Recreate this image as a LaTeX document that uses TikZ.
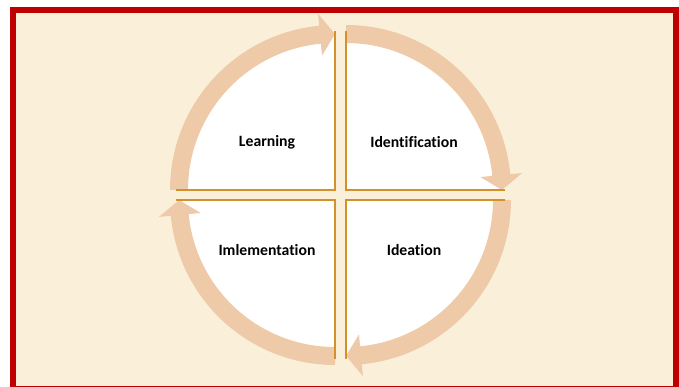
\documentclass[tikz,border=0pt]{standalone}
\usepackage{fontspec}
\setmainfont[Ligatures=NoCommon]{Carlito}
\usepackage{tikz}

\definecolor{framered}{HTML}{C00000}
\definecolor{paper}{HTML}{FAF0DA}
\definecolor{rim}{HTML}{D4902A}
\definecolor{band}{HTML}{EECAA9}

\tikzset{
  quarter/.style={fill=white},
  rimline/.style={draw=rim, line width=1.8pt},
  cyclearrow/.style={fill=band},
  phase/.style={font=\fontsize{11.8}{14}\selectfont\bfseries}
}

\begin{document}
\begin{tikzpicture}[x=0.75pt,y=0.75pt]
    \useasboundingbox (0,0) rectangle (679,386);
    \fill[white] (0,0) rectangle (679,386);
    \draw[framered, line width=4.5pt, fill=paper] (13,-3) rectangle (676,376);

    % white quarters
    \fill[quarter] (335,196) -- (176,196) arc (180:90:159) -- cycle;
    \fill[quarter] (346,196) -- (346,355) arc (90:0:159) -- cycle;
    \fill[quarter] (346,186) -- (505,186) arc (0:-90:159) -- cycle;
    \fill[quarter] (335,186) -- (335,27) arc (-90:-180:159) -- cycle;

    % curved arrows, clockwise
    \fill[cyclearrow, shift={(335,196)}] (180:165) arc (180:95.5:165) -- (95.5:177) -- (90:156)
        -- (95.5:135) -- (95.5:147) arc (95.5:180:147) -- cycle;
    \fill[cyclearrow, shift={(346,196)}] (90:165) arc (90:5.5:165) -- (5.5:177) -- (0:156)
        -- (5.5:135) -- (5.5:147) arc (5.5:90:147) -- cycle;
    \fill[cyclearrow, shift={(346,186)}] (0:165) arc (0:-84.5:165) -- (-84.5:177) -- (-90:156)
        -- (-84.5:135) -- (-84.5:147) arc (-84.5:0:147) -- cycle;
    \fill[cyclearrow, shift={(335,186)}] (-90:165) arc (-90:-174.5:165) -- (-174.5:177) -- (-180:156)
        -- (-174.5:135) -- (-174.5:147) arc (-174.5:-90:147) -- cycle;

    % edges along the cross
    \draw[rimline] (176,196) -- (335,196) -- (335,355);
    \draw[rimline] (346,355) -- (346,196) -- (505,196);
    \draw[rimline] (505,186) -- (346,186) -- (346,27);
    \draw[rimline] (335,27) -- (335,186) -- (176,186);

    \node[phase] (learn) at (267,244) {Learning};
    \node[phase] (ident) at (414,244) {Identification};
    \node[phase] (impl) at (267,136) {Imlementation};
    \node[phase] (idea) at (414,136) {Ideation};
\end{tikzpicture}
\end{document}
